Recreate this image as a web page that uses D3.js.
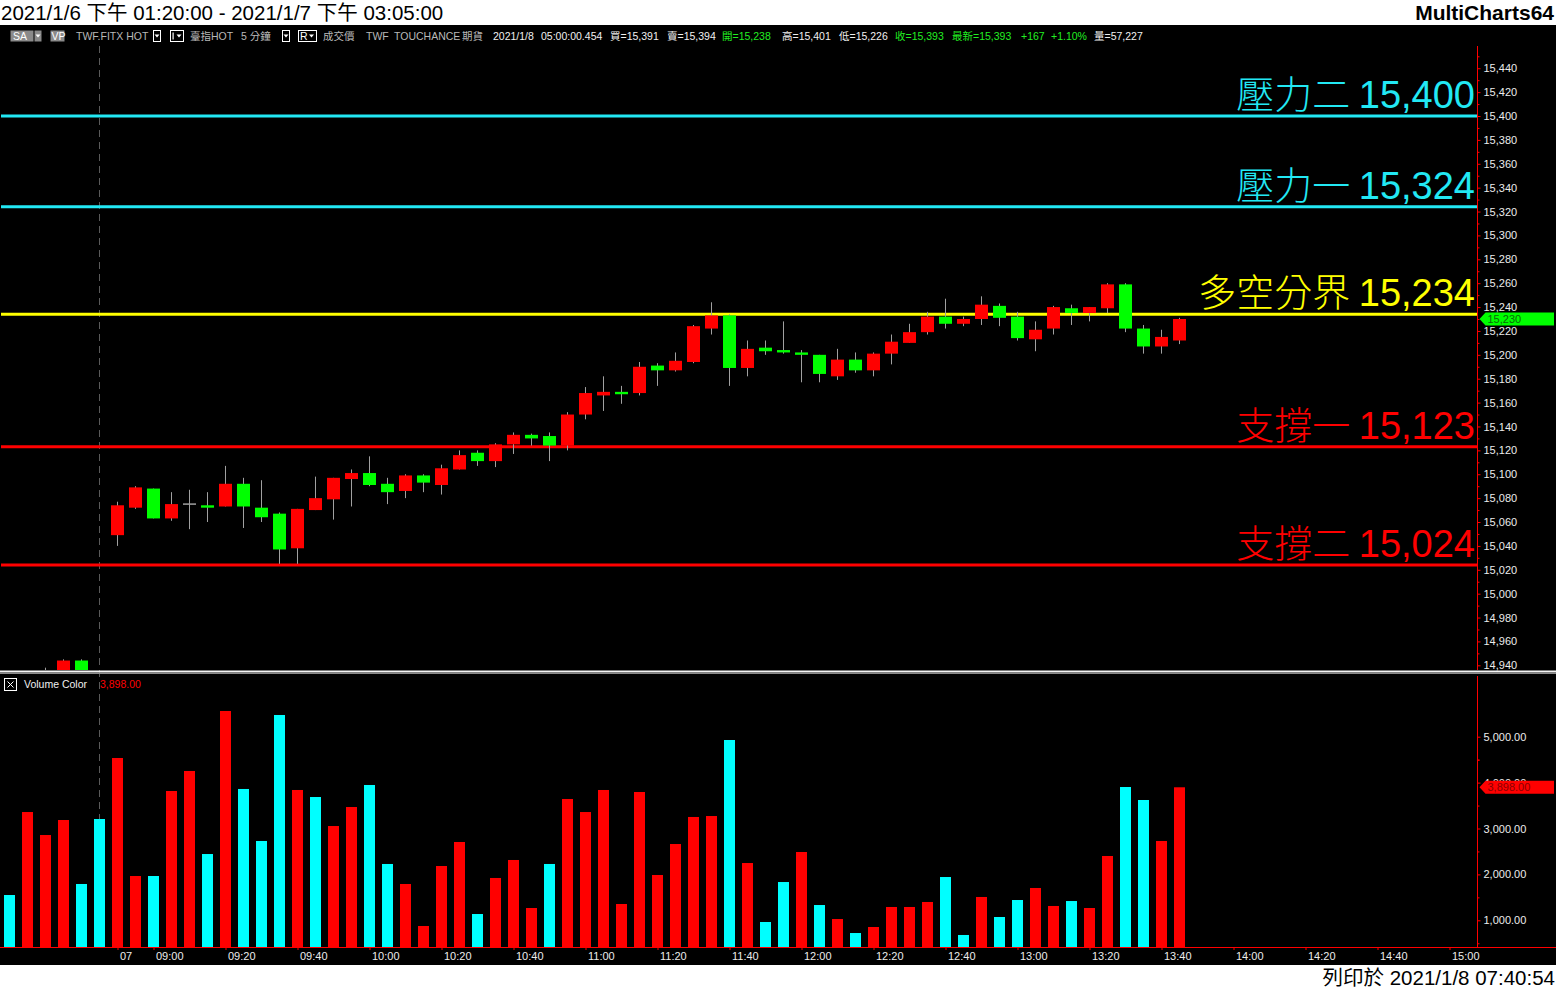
<!DOCTYPE html>
<html><head><meta charset="utf-8">
<script src="https://cdn.jsdelivr.net/npm/d3@7"></script>
<style>
html,body{margin:0;padding:0;background:#fff;}
svg{display:block;}
text{font-family:"Liberation Sans","Noto Sans CJK TC",sans-serif;}
</style></head><body>
<svg id="c" width="1556" height="988"></svg>
<script>
// ---------- DATA ----------
const opens  = [14920,14912,14925,14930,14944,14928,15049,15072,15088,15063,15075,15074,15073,15092,15072,15067,15038,15070,15079,15096,15101,15092,15086,15099,15091,15104,15118,15111,15125,15133,15132,15124,15150,15166,15169,15168,15191,15187,15194,15222,15233,15189,15206,15204,15202,15200,15182,15196,15187,15201,15210,15219,15232,15226,15230,15241,15232,15213,15222,15239,15235,15239,15259,15222,15207,15212];
const highs  = [14930,14928,14938,14945,14945,14936,15077,15090,15088,15085,15087,15085,15107,15097,15095,15068,15071,15098,15097,15104,15115,15097,15100,15100,15108,15120,15120,15126,15135,15134,15135,15152,15173,15182,15174,15194,15193,15202,15225,15244,15234,15212,15212,15228,15204,15200,15205,15202,15202,15217,15226,15236,15247,15232,15249,15243,15236,15228,15241,15242,15240,15260,15260,15225,15221,15231];
const lows   = [14905,14908,14915,14928,14925,14915,15040,15071,15063,15061,15054,15060,15073,15055,15060,15025,15025,15070,15062,15073,15090,15075,15080,15085,15083,15104,15107,15106,15117,15124,15111,15120,15146,15153,15159,15166,15174,15186,15193,15217,15174,15182,15200,15201,15177,15177,15179,15185,15182,15192,15210,15217,15222,15224,15225,15224,15212,15203,15217,15225,15228,15235,15219,15201,15201,15209];
const closes = [14912,14925,14930,14944,14928,14920,15074,15089,15063,15075,15075,15072,15092,15073,15064,15037,15071,15080,15097,15101,15091,15085,15099,15093,15105,15116,15111,15125,15133,15130,15124,15150,15168,15169,15167,15190,15187,15195,15224,15233,15189,15205,15203,15202,15200,15184,15196,15187,15201,15211,15219,15232,15226,15230,15242,15231,15214,15221,15240,15235,15240,15259,15222,15207,15215,15230];
const volumes = [1551,3359,2858,3185,1791,3207,4536,1965,1965,3817,4253,2444,5560,3861,2728,5473,3839,3686,3054,3468,3948,2227,1791,876,2183,2706,1137,1922,2314,1268,2227,3643,3359,3839,1355,3795,1987,2662,3251,3272,4928,2248,963,1834,2488,1333,1028,723,854,1290,1290,1399,1943,680,1508,1072,1442,1704,1312,1420,1268,2401,3904,3621,2728,3898];
const volUp = [0,1,1,1,0,0,1,1,0,1,1,0,1,0,0,0,1,0,1,1,0,0,1,1,1,1,0,1,1,1,0,1,1,1,1,1,1,1,1,1,0,1,0,0,1,0,1,0,1,1,1,1,0,0,1,0,0,1,1,0,1,1,0,0,1,1];
const sessionBreakBar = 5;
const levelNames  = ["壓力二","壓力一","多空分界","支撐一","支撐二"];
const levelValues = [15400,15324,15234,15123,15024];
const levelKinds  = ["resist","resist","pivot","support","support"];
const xTickBars   = [6,8,12,16,20,24,28,32,36,40,44,48,52,56,60,64,68,72,76,80];
const xTickLabels = ["07","09:00","09:20","09:40","10:00","10:20","10:40","11:00","11:20","11:40","12:00","12:20","12:40","13:00","13:20","13:40","14:00","14:20","14:40","15:00"];
const volTickValues = [1000,2000,3000,4000,5000];
const titleText = "2021/1/6 下午 01:20:00 - 2021/1/7 下午 03:05:00";
const footerText = "列印於 2021/1/8 07:40:54";

// ---------- STYLE ----------
const kindColor = {resist:"#22e8f4", pivot:"#ffff00", support:"#ff0000"};
const UP = "#ff0000", DOWN = "#00ff00", VUP = "#ff0000", VDOWN = "#00ffff";
const AXIS = "#ff0000", LBL = "#ececec";

const svg = d3.select("#c");
svg.append("rect").attr("width",1556).attr("height",988).attr("fill","#fff");
svg.append("rect").attr("x",0).attr("y",25).attr("width",1556).attr("height",940).attr("fill","#000");

// scales
const x = d3.scaleLinear().domain([0,80]).range([9,9+80*18]);
const y = d3.scaleLinear().domain([15024,15400]).range([565,116]);
const yv = d3.scaleLinear().domain([1000,5000]).range([920.3,736.7]);
const AX = 1477.5;
const P_TOP = 46, P_BOT = 670, V_TOP = 676, V_BOT = 947;

// title / footer
svg.append("text").attr("x",1).attr("y",20).attr("font-size",20.5).attr("fill","#000").text(titleText);
svg.append("text").attr("x",1554).attr("y",20).attr("text-anchor","end").attr("font-size",21).attr("font-weight","bold").attr("fill","#000").text("MultiCharts64");
svg.append("text").attr("x",1555).attr("y",985).attr("text-anchor","end").attr("font-size",20.5).attr("fill","#000").text(footerText);

// info row
const IB = 40; // baseline
const info = svg.append("g").attr("font-size",10.5);
function box(x0,w,fill,stroke){info.append("rect").attr("x",x0+0.5).attr("y",IB-9.5).attr("width",w).attr("height",11).attr("fill",fill).attr("stroke",stroke||"none");}
function tri(cx){info.append("path").attr("d",`M${cx-2.5},${IB-5.5} L${cx+2.5},${IB-5.5} L${cx},${IB-2.5} Z`).attr("fill","#fff");}
box(10,23,"#8a8a8a"); info.append("text").attr("x",13).attr("y",IB).attr("fill","#fff").text("SA");
box(34,7,"#8a8a8a"); tri(38);
box(50,14,"#8a8a8a"); info.append("text").attr("x",51.5).attr("y",IB).attr("fill","#fff").text("VP");
const infoItems = [
  [76,"TWF.FITX HOT","#b8b8b8"],[190,"臺指HOT","#b8b8b8"],[241,"5 分鐘","#b8b8b8"],
  [323,"成交價","#b8b8b8"],[366,"TWF","#b8b8b8"],[394,"TOUCHANCE","#b8b8b8"],[462,"期貨","#b8b8b8"],
  [493,"2021/1/8","#f0f0f0"],[541,"05:00:00.454","#f0f0f0"],
  [610,"買=15,391","#f0f0f0"],[667,"賣=15,394","#f0f0f0"],[722,"開=15,238","#22ee22"],
  [782,"高=15,401","#f0f0f0"],[839,"低=15,226","#f0f0f0"],[895,"收=15,393","#22ee22"],
  [952,"最新=15,393","#22ee22"],[1021,"+167","#22ee22"],[1051,"+1.10%","#22ee22"],[1094,"量=57,227","#f0f0f0"]
];
infoItems.forEach(d=>info.append("text").attr("x",d[0]).attr("y",IB).attr("fill",d[2]).text(d[1]));
box(153,7,"#000","#fff"); tri(157);
box(170,13,"#000","#fff"); info.append("rect").attr("x",172.5).attr("y",IB-7.5).attr("width",1.2).attr("height",7).attr("fill","#fff"); tri(179);
box(282,7,"#000","#fff"); tri(286);
box(298,18,"#000","#fff"); info.append("text").attr("x",300).attr("y",IB).attr("fill","#fff").text("R"); tri(311.5);

// session break dashed line
svg.append("line").attr("x1",x(sessionBreakBar)+0.5).attr("x2",x(sessionBreakBar)+0.5)
  .attr("y1",P_TOP).attr("y2",V_BOT).attr("stroke","#5a5a5a").attr("stroke-dasharray","7,5");

// clip for price panel
svg.append("clipPath").attr("id","pclip").append("rect").attr("x",0).attr("y",P_TOP).attr("width",AX).attr("height",P_BOT-P_TOP);
const pg = svg.append("g").attr("clip-path","url(#pclip)");

// level lines + labels
levelValues.forEach((v,i)=>{
  const c = kindColor[levelKinds[i]];
  pg.append("line").attr("x1",1).attr("x2",AX).attr("y1",y(v)).attr("y2",y(v)).attr("stroke",c).attr("stroke-width",3);
  const t = svg.append("text").attr("x",1475).attr("y",y(v)-8).attr("text-anchor","end").attr("fill",c).attr("font-size",38);
  t.append("tspan").attr("font-family","'Noto Sans CJK TC',sans-serif").attr("font-weight",300).text(levelNames[i]+" ");
  t.append("tspan").text(d3.format(",")(v));
});

// candles
const idx = d3.range(opens.length);
pg.selectAll("line.wick").data(idx).join("line").attr("class","wick")
  .attr("x1",i=>x(i)+0.5).attr("x2",i=>x(i)+0.5)
  .attr("y1",i=>y(highs[i])).attr("y2",i=>y(lows[i]))
  .attr("stroke","#a0a0a0").attr("stroke-width",1);
pg.selectAll("rect.body").data(idx.filter(i=>opens[i]!==closes[i])).join("rect").attr("class","body")
  .attr("x",i=>x(i)-6).attr("width",13)
  .attr("y",i=>y(Math.max(opens[i],closes[i])))
  .attr("height",i=>Math.max(2,Math.abs(y(opens[i])-y(closes[i]))))
  .attr("fill",i=>closes[i]>opens[i]?UP:DOWN);
pg.selectAll("line.doji").data(idx.filter(i=>opens[i]===closes[i])).join("line").attr("class","doji")
  .attr("x1",i=>x(i)-6).attr("x2",i=>x(i)+7).attr("y1",i=>y(opens[i])).attr("y2",i=>y(opens[i]))
  .attr("stroke","#a0a0a0").attr("stroke-width",1.5);

// separator between panels
svg.append("rect").attr("x",0).attr("y",670.5).attr("width",1556).attr("height",2).attr("fill","#f4f4f4");
svg.append("rect").attr("x",0).attr("y",672.5).attr("width",1556).attr("height",1.5).attr("fill","#8a8a8a");

// volume bars
svg.selectAll("rect.vol").data(idx).join("rect").attr("class","vol")
  .attr("x",i=>x(i)-5).attr("width",11)
  .attr("y",i=>yv(volumes[i])).attr("height",i=>V_BOT-yv(volumes[i]))
  .attr("fill",i=>volUp[i]?VUP:VDOWN);

// axes
function styleAxis(g){
  g.select(".domain").remove();
  g.selectAll(".tick line").attr("stroke",AXIS);
  g.selectAll(".tick text").attr("fill",LBL).attr("font-size",11).attr("font-family","'Liberation Sans',sans-serif");
}
svg.append("line").attr("x1",AX).attr("x2",AX).attr("y1",P_TOP).attr("y2",P_BOT).attr("stroke",AXIS);
svg.append("g").attr("transform",`translate(${AX},0)`)
  .call(d3.axisRight(y).tickValues(d3.range(14940,15441,20)).tickSize(3).tickPadding(3).tickFormat(d3.format(",")))
  .call(styleAxis);
svg.append("g").attr("transform",`translate(${AX},0)`)
  .call(d3.axisRight(y).tickValues(d3.range(14950,15451,20)).tickSize(2).tickFormat(""))
  .call(styleAxis);

svg.append("line").attr("x1",AX).attr("x2",AX).attr("y1",V_TOP).attr("y2",V_BOT).attr("stroke",AXIS);
svg.append("g").attr("transform",`translate(${AX},0)`)
  .call(d3.axisRight(yv).tickValues(volTickValues).tickSize(3).tickPadding(3).tickFormat(d3.format(",.2f")))
  .call(styleAxis);
svg.append("g").attr("transform",`translate(${AX},0)`)
  .call(d3.axisRight(yv).tickValues(volTickValues.map(v=>v-500).concat([4500])).tickSize(2).tickFormat(""))
  .call(styleAxis);

svg.append("line").attr("x1",0).attr("x2",1556).attr("y1",V_BOT+0.5).attr("y2",V_BOT+0.5).attr("stroke",AXIS);
const xa = svg.append("g").attr("transform",`translate(0.5,${V_BOT})`)
  .call(d3.axisBottom(x).tickValues(xTickBars).tickSize(3).tickPadding(2).tickFormat((d,i)=>xTickLabels[i]))
  .call(styleAxis);
xa.selectAll(".tick text").attr("text-anchor","start").attr("x",2);

// last value markers
const lastC = closes[closes.length-1], lastV = volumes[volumes.length-1];
function marker(yy,fill,txtColor,label){
  svg.append("path").attr("d",`M${AX+2},${yy} L${AX+8},${yy-6.5} L1554,${yy-6.5} L1554,${yy+6.5} L${AX+8},${yy+6.5} Z`).attr("fill",fill);
  svg.append("text").attr("x",AX+10).attr("y",yy+4).attr("font-size",11).attr("fill",txtColor).text(label);
}
marker(y(lastC),"#00ff00","#0a6a0a",d3.format(",")(lastC));
marker(yv(lastV),"#ff0000","#8a0000",d3.format(",.2f")(lastV));

// volume legend
svg.append("rect").attr("x",4.5).attr("y",678.5).attr("width",12).attr("height",12).attr("fill","none").attr("stroke","#fff");
svg.append("path").attr("d","M7.5,681.5 L13.5,687.5 M13.5,681.5 L7.5,687.5").attr("stroke","#fff");
svg.append("text").attr("x",24).attr("y",688).attr("font-size",10.5).attr("fill","#f0f0f0").text("Volume Color");
svg.append("text").attr("x",100).attr("y",688).attr("font-size",10.5).attr("fill","#ff0000").text(d3.format(",.2f")(lastV));
</script>
</body></html>
